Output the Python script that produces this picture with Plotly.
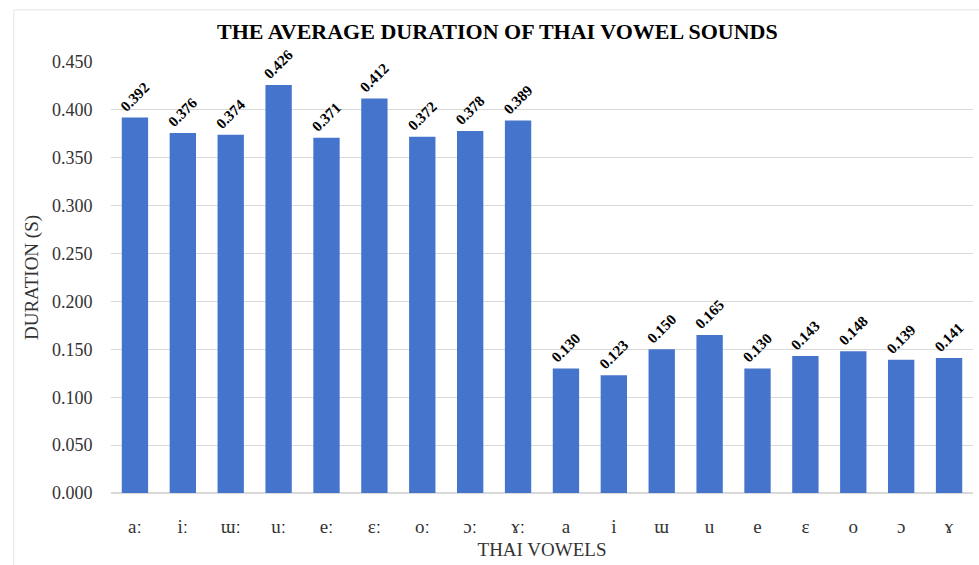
import plotly.graph_objects as go

vowels = ["aː", "iː", "ɯː", "uː", "eː", "ɛː", "oː", "ɔː", "ɤː",
          "a", "i", "ɯ", "u", "e", "ɛ", "o", "ɔ", "ɤ"]
durations = [0.392, 0.376, 0.374, 0.426, 0.371, 0.412, 0.372, 0.378, 0.389,
             0.130, 0.123, 0.150, 0.165, 0.130, 0.143, 0.148, 0.139, 0.141]
y_ticks = [0.0, 0.05, 0.1, 0.15, 0.2, 0.25, 0.3, 0.35, 0.4, 0.45]

serif = "Liberation Serif"

fig = go.Figure(go.Bar(
    x=vowels, y=durations,
    marker=dict(color="#4574cc", line=dict(width=0)),
    text=[f"{v:.3f}" for v in durations],
    textposition="outside", textangle=-45, cliponaxis=False,
    constraintext="none",
    textfont=dict(family=serif, size=15, color="#000000", weight="bold"),
))

fig.update_layout(
    width=979, height=565,
    margin=dict(l=111, r=6, t=62, b=72),
    paper_bgcolor="white", plot_bgcolor="white",
    bargap=0.45,
    showlegend=False,
    title=dict(text="<b>THE AVERAGE DURATION OF THAI VOWEL SOUNDS</b>",
               x=0.508, xanchor="center", y=0.945, yanchor="middle",
               font=dict(family=serif, size=22, color="#000000")),
    xaxis=dict(
        title=dict(text="THAI VOWELS", font=dict(family=serif, size=19, color="#333333"), standoff=6),
        tickfont=dict(family=serif, size=19, color="#333333"),
        showgrid=False, showline=True, linecolor="#d9d9d9",
        ticks="outside", ticklen=16, tickcolor="rgba(0,0,0,0)",
    ),
    yaxis=dict(
        title=dict(text="DURATION (S)", font=dict(family=serif, size=19, color="#333333"), standoff=8),
        tickfont=dict(family=serif, size=18, color="#333333"),
        range=[0, 0.45], tickvals=y_ticks, tickformat=".3f",
        showgrid=True, gridcolor="#d9d9d9", gridwidth=1,
        zeroline=True, zerolinecolor="#d9d9d9", showline=False,
        ticks="outside", ticklen=14, tickcolor="rgba(0,0,0,0)",
    ),
    shapes=[dict(type="rect", xref="paper", yref="paper",
                 x0=-0.1128, x1=1.02, y0=-0.2, y1=1.121,
                 line=dict(color="#e6e6e6", width=1), fillcolor="rgba(0,0,0,0)", layer="below")],
)

fig.write_html("out.html")
